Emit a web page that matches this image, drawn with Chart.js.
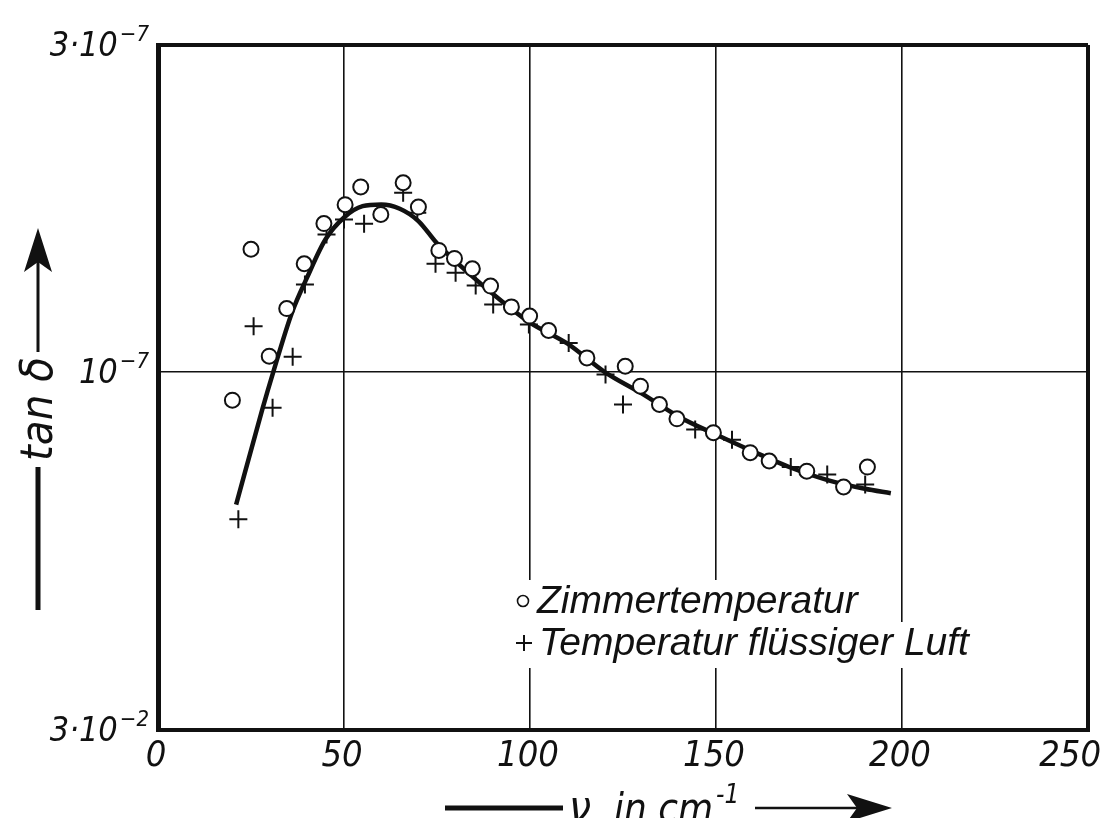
<!DOCTYPE html>
<html>
<head>
<meta charset="utf-8">
<title>tan delta</title>
<script src="https://cdn.jsdelivr.net/npm/chart.js@4.4.1/dist/chart.umd.min.js"></script>
<style>
  body { margin: 0; background: #fff; }
  #wrap { width: 1103px; height: 818px; }
</style>
</head>
<body>
<div id="wrap"><canvas id="chart" width="1103" height="818"></canvas></div>
<script>
// Zimmertemperatur (circles)
const roomNu  = [20.0, 25.0, 29.9, 34.6, 39.3, 44.6, 50.3, 54.5, 59.9, 65.9, 70.0, 75.5, 79.7, 84.5, 89.4, 95.0, 99.9, 105.0, 115.3, 125.6, 129.7, 134.8, 139.5, 149.3, 159.2, 164.3, 174.4, 184.3, 190.7];
const roomTan = [0.0909, 0.151, 0.1054, 0.1237, 0.1438, 0.1646, 0.1754, 0.1862, 0.1697, 0.1888, 0.174, 0.1504, 0.1464, 0.1414, 0.1334, 0.1244, 0.1206, 0.1149, 0.1048, 0.1019, 0.0953, 0.0896, 0.0854, 0.0815, 0.0762, 0.0741, 0.0716, 0.0679, 0.0726];

// Temperatur fluessiger Luft (crosses)
const airNu  = [21.6, 25.7, 30.8, 36.2, 39.5, 45.3, 50.0, 55.4, 65.9, 69.7, 74.6, 80.0, 85.4, 90.1, 99.7, 110.4, 120.3, 125.0, 144.4, 154.3, 170.1, 179.9, 190.1];
const airTan = [0.0609, 0.1166, 0.0886, 0.1052, 0.1341, 0.1586, 0.1669, 0.1645, 0.1825, 0.1707, 0.1438, 0.1395, 0.1337, 0.1254, 0.1172, 0.1102, 0.0991, 0.0896, 0.0824, 0.0796, 0.0726, 0.0708, 0.0685];

// drawn curve
const curveNu  = [21, 28, 31, 36, 40, 45, 50, 55, 60, 65, 70, 75, 80, 90, 100, 110, 120, 130, 140, 150, 160, 170, 180, 190, 197];
const curveTan = [0.064, 0.088, 0.100, 0.122, 0.137, 0.156, 0.168, 0.1745, 0.1755, 0.173, 0.166, 0.154, 0.145, 0.130, 0.118, 0.110, 0.100, 0.093, 0.086, 0.081, 0.0765, 0.0725, 0.0695, 0.0675, 0.0665];

const xTicks = [0, 50, 100, 150, 200, 250];
const yTicks = [0.03, 0.1, 0.3];
const yTickMain = ['3·10', '10', '3·10'];
const yTickExp  = ['−2', '−7', '−7'];

const legendLabels = ['Zimmertemperatur', 'Temperatur flüssiger Luft'];

function toPoints(xs, ys) {
    return xs.map((x, i) => ({ x: x, y: ys[i] }));
}

const narrow = "'Liberation Sans Narrow', 'DejaVu Sans Condensed', sans-serif";
const wide = "'Liberation Sans', 'DejaVu Sans', sans-serif";

const whiteBg = {
    id: 'whiteBg',
    beforeDraw(chart) {
        const ctx = chart.ctx;
        ctx.save();
        ctx.fillStyle = '#fff';
        ctx.fillRect(0, 0, chart.width, chart.height);
        ctx.restore();
    }
};

const decor = {
    id: 'decor',
    beforeDatasetsDraw(chart) {
        // legend box hides the grid lines behind the text
        const ctx = chart.ctx;
        ctx.save();
        ctx.fillStyle = '#fff';
        ctx.fillRect(510, 580, 362, 43);
        ctx.fillRect(510, 622, 478, 46);
        ctx.restore();
    },
    afterDraw(chart) {
        const ctx = chart.ctx;
        const xs = chart.scales.x;
        const ys = chart.scales.y;
        ctx.save();
        ctx.fillStyle = '#111';
        ctx.strokeStyle = '#111';

        // x tick labels
        ctx.font = 'italic 36px ' + narrow;
        ctx.textAlign = 'left';
        ctx.textBaseline = 'alphabetic';
        xTicks.forEach(v => {
            const w = ctx.measureText(String(v)).width;
            let left = xs.getPixelForValue(v) - 2 - w / 2;
            if (left + w > 1101) left = 1101 - w;
            ctx.fillText(String(v), left, 766);
        });

        // y tick labels with exponent
        yTicks.forEach((v, i) => {
            const y = ys.getPixelForValue(v);
            ctx.font = 'italic 22px ' + narrow;
            const ew = ctx.measureText(yTickExp[i]).width;
            const ex = 149 - ew;
            ctx.fillText(yTickExp[i], ex, y - 4);
            ctx.font = 'italic 34px ' + narrow;
            const mw = ctx.measureText(yTickMain[i]).width;
            ctx.fillText(yTickMain[i], ex - 2 - mw, y + 11);
        });

        // y axis title: line, text, arrow
        ctx.lineCap = 'butt';
        ctx.lineWidth = 5;
        ctx.beginPath();
        ctx.moveTo(38, 610);
        ctx.lineTo(38, 467);
        ctx.stroke();
        ctx.lineWidth = 3;
        ctx.beginPath();
        ctx.moveTo(38, 352);
        ctx.lineTo(38, 262);
        ctx.stroke();
        ctx.beginPath();
        ctx.moveTo(38, 228);
        ctx.lineTo(24, 272);
        ctx.lineTo(38, 262);
        ctx.lineTo(52, 272);
        ctx.closePath();
        ctx.fill();
        ctx.save();
        ctx.translate(38, 461);
        ctx.rotate(-Math.PI / 2);
        ctx.font = 'italic 45px ' + narrow;
        ctx.textAlign = 'left';
        ctx.textBaseline = 'middle';
        ctx.fillText('tan δ', 0, 2);
        ctx.restore();

        // x axis title
        ctx.lineWidth = 5;
        ctx.beginPath();
        ctx.moveTo(445, 808);
        ctx.lineTo(563, 808);
        ctx.stroke();
        ctx.font = 'italic 44px ' + narrow;
        ctx.textAlign = 'left';
        ctx.textBaseline = 'alphabetic';
        ctx.fillText('ν', 569, 822);
        ctx.font = 'italic 40px ' + narrow;
        ctx.fillText('in cm', 614, 822);
        const tw = ctx.measureText('in cm').width;
        ctx.font = 'italic 26px ' + narrow;
        ctx.fillText('-1', 614 + tw + 3, 803);
        ctx.lineWidth = 2.5;
        ctx.beginPath();
        ctx.moveTo(755, 808);
        ctx.lineTo(860, 808);
        ctx.stroke();
        ctx.beginPath();
        ctx.moveTo(892, 808);
        ctx.lineTo(847, 794);
        ctx.lineTo(857, 808);
        ctx.lineTo(847, 822);
        ctx.closePath();
        ctx.fill();

        // legend
        ctx.lineWidth = 1.6;
        ctx.beginPath();
        ctx.arc(523, 601, 5.5, 0, Math.PI * 2);
        ctx.stroke();
        ctx.lineWidth = 2;
        ctx.beginPath();
        ctx.moveTo(516, 643);
        ctx.lineTo(532, 643);
        ctx.moveTo(524, 635);
        ctx.lineTo(524, 651);
        ctx.stroke();
        ctx.font = 'italic 39px ' + wide;
        ctx.fillText(legendLabels[0], 537, 613);
        ctx.fillText(legendLabels[1], 539, 655);

        ctx.restore();
    }
};

function edgeWidth(min, max, value) {
    return (value === min || value === max) ? 4 : 1.6;
}

const chart = new Chart(document.getElementById('chart'), {
    type: 'scatter',
    data: {
        datasets: [
            {
                label: legendLabels[0],
                data: toPoints(roomNu, roomTan),
                pointStyle: 'circle',
                pointRadius: 7.5,
                pointBorderWidth: 2,
                borderColor: '#111',
                backgroundColor: '#fff',
                order: 1
            },
            {
                label: legendLabels[1],
                data: toPoints(airNu, airTan),
                pointStyle: 'cross',
                pointRadius: 9,
                pointBorderWidth: 2,
                borderColor: '#111',
                backgroundColor: '#111',
                order: 2
            },
            {
                type: 'line',
                label: 'Kurve',
                data: toPoints(curveNu, curveTan),
                showLine: true,
                borderColor: '#111',
                borderWidth: 4.5,
                pointRadius: 0,
                cubicInterpolationMode: 'monotone',
                fill: false,
                order: 3
            }
        ]
    },
    options: {
        responsive: false,
        animation: false,
        devicePixelRatio: 1,
        layout: { padding: { left: 158, top: 45, right: 15, bottom: 88 } },
        plugins: {
            legend: { display: false },
            tooltip: { enabled: false }
        },
        scales: {
            x: {
                type: 'linear',
                min: 0,
                max: 250,
                afterBuildTicks: axis => { axis.ticks = xTicks.map(v => ({ value: v })); },
                ticks: { display: false },
                grid: {
                    color: '#111',
                    drawTicks: false,
                    lineWidth: ctx => edgeWidth(0, 250, ctx.tick.value)
                },
                border: { display: true, color: '#111', width: 4 }
            },
            y: {
                type: 'logarithmic',
                min: 0.03,
                max: 0.3,
                afterBuildTicks: axis => { axis.ticks = yTicks.map(v => ({ value: v })); },
                ticks: { display: false },
                grid: {
                    color: '#111',
                    drawTicks: false,
                    lineWidth: ctx => edgeWidth(0.03, 0.3, ctx.tick.value)
                },
                border: { display: true, color: '#111', width: 5 }
            }
        }
    },
    plugins: [whiteBg, decor]
});
</script>
</body>
</html>
